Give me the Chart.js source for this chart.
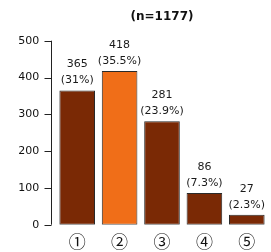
<!DOCTYPE html>
<html>
<head>
<meta charset="utf-8">
<script src="https://cdn.jsdelivr.net/npm/chart.js@4/dist/chart.umd.min.js"></script>
<style>
  html, body { margin: 0; padding: 0; background: #ffffff; }
  #wrap { width: 271px; height: 252px; }
</style>
</head>
<body>
<div id="wrap"><canvas id="c" width="271" height="252"></canvas></div>
<script>
const categories = ["①", "②", "③", "④", "⑤"];
const counts = [365, 418, 281, 86, 27];
const percentLabels = ["(31%)", "(35.5%)", "(23.9%)", "(7.3%)", "(2.3%)"];
const yTicks = [0, 100, 200, 300, 400, 500];
const titleText = "(n=1177)";

const DARK = "#7a2905";
const ORANGE = "#f06e18";
const barColors = counts.map((v, i) => i === 1 ? ORANGE : DARK);

const axisPlugin = {
  id: "rAxis",
  afterDraw(chart) {
    const y = chart.scales.y;
    const ctx = chart.ctx;
    const ax = Math.round(chart.chartArea.left - 5.5) + 0.5;
    ctx.save();
    ctx.strokeStyle = "#222";
    ctx.lineWidth = 1;
    ctx.beginPath();
    ctx.moveTo(ax, y.getPixelForValue(yTicks[0]));
    ctx.lineTo(ax, y.getPixelForValue(yTicks[yTicks.length - 1]));
    yTicks.forEach(t => {
      const py = Math.round(y.getPixelForValue(t)) + 0.5;
      ctx.moveTo(ax - 7, py);
      ctx.lineTo(ax, py);
    });
    ctx.stroke();
    ctx.restore();
  }
};

const labelPlugin = {
  id: "barLabels",
  afterDatasetsDraw(chart) {
    const ctx = chart.ctx;
    const meta = chart.getDatasetMeta(0);
    ctx.save();
    ctx.fillStyle = "#1a1a1a";
    ctx.font = "11px 'DejaVu Sans'";
    ctx.textAlign = "center";
    ctx.textBaseline = "middle";
    meta.data.forEach((bar, i) => {
      ctx.fillText(String(counts[i]), bar.x, bar.y - 26);
      ctx.fillText(percentLabels[i], bar.x, bar.y - 10);
    });
    ctx.restore();
  }
};

new Chart(document.getElementById("c"), {
  type: "bar",
  data: {
    labels: categories,
    datasets: [{
      data: counts,
      backgroundColor: barColors,
      borderColor: "#2a2a2a",
      borderWidth: 1,
      borderSkipped: false,
      barPercentage: 0.84,
      categoryPercentage: 1.0
    }]
  },
  options: {
    responsive: false,
    animation: false,
    devicePixelRatio: 1,
    layout: { padding: { left: 0, right: 3, top: 0, bottom: 0 } },
    plugins: {
      legend: { display: false },
      tooltip: { enabled: false },
      title: {
        display: true,
        fullSize: false,
        text: titleText,
        color: "#111",
        font: { family: "'DejaVu Sans'", size: 12, weight: "bold" },
        padding: { top: 10, bottom: 16.3 },
        align: "center"
      }
    },
    scales: {
      x: {
        grid: { display: false, drawTicks: false },
        border: { display: false },
        ticks: {
          color: "#111",
          font: { family: "'Noto Sans CJK JP'", size: 17 },
          padding: 6.8,
          maxRotation: 0,
          autoSkip: false
        },
        afterFit(s) { s.height = 27.3; }
      },
      y: {
        min: 0,
        max: 500,
        afterBuildTicks(s) { s.ticks = yTicks.map(v => ({ value: v })); },
        grid: { display: false, drawTicks: false },
        border: { display: false },
        ticks: {
          color: "#111",
          font: { family: "'DejaVu Sans'", size: 11 },
          padding: 16.7
        },
        afterFit(s) { s.width = 56; }
      }
    }
  },
  plugins: [axisPlugin, labelPlugin]
});
</script>
</body>
</html>
